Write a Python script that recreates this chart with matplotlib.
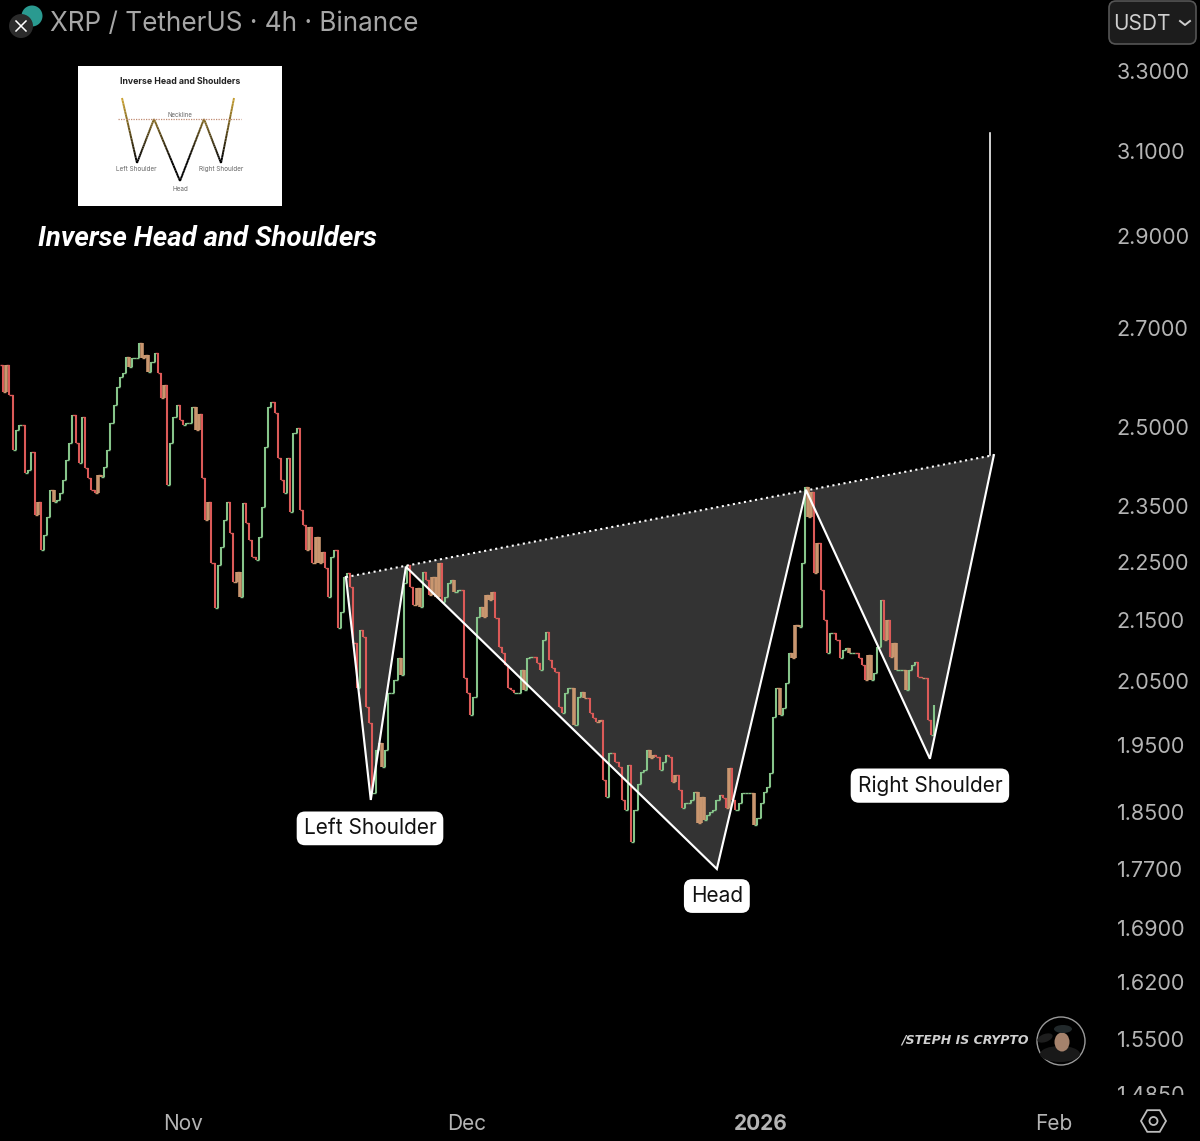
from datetime import datetime, timedelta

import matplotlib
matplotlib.use("Agg")
import matplotlib.pyplot as plt
import matplotlib.dates as mdates
import numpy as np
from matplotlib.collections import LineCollection
from matplotlib.patches import Circle, Ellipse, FancyBboxPatch, Polygon, Rectangle, RegularPolygon
from matplotlib.ticker import NullFormatter, NullLocator

plt.rcParams['font.family'] = ['Inter', 'DejaVu Sans']

# XRP/USDT closes, one every 8h
first_bar = datetime(2025, 10, 12, 16, 0)
closes = [
    2.623, 2.569, 2.623, 2.563, 2.455, 2.494, 2.503, 2.503, 2.411, 2.417,
    2.451, 2.333, 2.357, 2.271, 2.297, 2.329, 2.380, 2.357, 2.361, 2.374,
    2.398, 2.436, 2.468, 2.523, 2.468, 2.430, 2.519, 2.421, 2.402, 2.380,
    2.374, 2.407, 2.404, 2.423, 2.455, 2.507, 2.543, 2.579, 2.599, 2.607,
    2.639, 2.619, 2.637, 2.637, 2.669, 2.637, 2.643, 2.609, 2.629, 2.647,
    2.607, 2.557, 2.583, 2.389, 2.468, 2.519, 2.543, 2.513, 2.503, 2.507,
    2.507, 2.539, 2.494, 2.525, 2.402, 2.324, 2.357, 2.248, 2.170, 2.244,
    2.276, 2.324, 2.357, 2.300, 2.214, 2.232, 2.189, 2.355, 2.319, 2.288,
    2.258, 2.253, 2.294, 2.348, 2.460, 2.539, 2.549, 2.527, 2.440, 2.398,
    2.374, 2.440, 2.339, 2.488, 2.498, 2.342, 2.315, 2.271, 2.311, 2.248,
    2.294, 2.248, 2.267, 2.239, 2.189, 2.258, 2.271, 2.136, 2.163, 2.223,
    2.230,
    2.206, 2.111, 2.038, 2.133, 2.121, 2.009, 1.983, 1.878, 1.942, 1.953,
    1.916, 1.942, 2.030, 2.030, 2.051, 2.087, 2.059, 2.213, 2.244, 2.206,
    2.175, 2.204, 2.172, 2.232, 2.218, 2.192, 2.223, 2.189, 2.248, 2.180,
    2.189, 2.213, 2.218, 2.197, 2.201, 2.201, 2.054, 2.030, 1.996, 2.024,
    2.155, 2.172, 2.155, 2.192, 2.184, 2.197, 2.153, 2.105, 2.095, 2.075,
    2.039, 2.035, 2.030, 2.030, 2.067, 2.035, 2.087, 2.089, 2.089, 2.079,
    2.067, 2.116, 2.130, 2.084, 2.071, 2.064, 2.009, 1.999, 2.030, 2.039,
    2.039, 1.980, 2.024, 2.032, 2.022, 2.022, 1.999, 1.991, 1.985, 1.988,
    1.897, 1.872, 1.937, 1.937, 1.924, 1.916, 1.868, 1.853, 1.919, 1.807,
    1.853, 1.892, 1.909, 1.912, 1.942,
    1.930, 1.935, 1.932, 1.912, 1.924, 1.935, 1.932, 1.894, 1.904, 1.883,
    1.856, 1.864, 1.864, 1.868, 1.880, 1.835, 1.872, 1.839, 1.846, 1.850,
    1.853, 1.868, 1.875, 1.871, 1.857, 1.915, 1.868, 1.853, 1.864, 1.878,
    1.878, 1.878, 1.878, 1.832, 1.842, 1.864, 1.880, 1.887, 1.907, 1.993,
    2.039, 1.996, 2.007, 2.046, 2.095, 2.087, 2.142, 2.138, 2.248, 2.385,
    2.330, 2.376, 2.230, 2.283, 2.201, 2.150, 2.095, 2.128, 2.128, 2.116,
    2.087, 2.100, 2.103, 2.095, 2.095, 2.095, 2.087, 2.075, 2.051, 2.092,
    2.051, 2.062, 2.105, 2.184, 2.116, 2.150, 2.089, 2.111, 2.067, 2.067,
    2.067, 2.035, 2.067, 2.075, 2.080, 2.056, 2.054, 2.054, 1.988, 1.965,
    2.012,
]

# the drawn pattern: shoulders, head, neckline ends
pattern_dates = [
    datetime(2025, 11, 18, 5), datetime(2025, 11, 20, 20), datetime(2025, 11, 24, 13),
    datetime(2025, 12, 27, 9), datetime(2026, 1, 5, 19), datetime(2026, 1, 18, 21),
    datetime(2026, 1, 25, 15),
]
pattern_prices = [2.223, 1.868, 2.241, 1.770, 2.379, 1.929, 2.445]
target_date = datetime(2026, 1, 25, 5)
target_prices = [2.445, 3.144]

pattern_labels = ["Left Shoulder", "Head", "Right Shoulder"]
label_dates = [datetime(2025, 11, 20, 18), datetime(2025, 12, 27, 9), datetime(2026, 1, 18, 21)]
label_prices = [1.827, 1.733, 1.889]

price_ticks = [3.3, 3.1, 2.9, 2.7, 2.5, 2.35, 2.25, 2.15, 2.05, 1.95, 1.85, 1.77, 1.69, 1.62, 1.55, 1.485]
date_ticks = [datetime(2025, 11, 1), datetime(2025, 12, 1), datetime(2026, 1, 1), datetime(2026, 2, 1)]
date_labels = ["Nov", "Dec", "2026", "Feb"]

# small picture of the pattern in the corner
inset_x = [44, 59, 76, 102, 126, 143, 156]
inset_y = [32, 97, 53, 115, 53, 97, 32]

RED = "#dc5a58"
GREEN = "#86c48a"
TAN = "#c9966f"
TEXT = "#b4b4b4"

fig = plt.figure(figsize=(12, 11.41), dpi=100, facecolor="black")
ax = fig.add_axes([0, 46 / 1141, 1100 / 1200, 1095 / 1141], facecolor="black")
ax.set_yscale("log")
ax.set_ylim(1.4837, 3.488)
ax.set_xlim(datetime(2025, 10, 12, 16, 19), datetime(2026, 2, 5, 20, 0))
for side in ax.spines.values():
    side.set_visible(False)

# pattern fill goes under the candles
px = mdates.date2num(pattern_dates)
ax.add_patch(Polygon(np.column_stack([px, pattern_prices]), closed=True, facecolor="#333333",
                     edgecolor="none", zorder=1))

dates = [first_bar + timedelta(hours=8 * i) for i in range(len(closes))]
xs = mdates.date2num(dates)
cl = np.array(closes)
up = cl[1:] >= cl[:-1]
colors = [GREEN if u else RED for u in up]
widths = [1.5] * len(up)
# small zigzags blur into a tan smear in the reference
for i in range(1, len(up) - 1):
    if up[i] != up[i - 1] and up[i] != up[i + 1] and abs(cl[i + 1] - cl[i]) < 0.06:
        colors[i] = TAN
        widths[i] = 2.6
ax.hlines(cl[:-1], xs[:-1], xs[1:], colors=colors, linewidth=1.0, zorder=2)
ax.vlines(xs[1:], cl[:-1], cl[1:], colors=colors, linewidth=widths, zorder=2)

# pattern outline and neckline
ax.plot(px, pattern_prices, color="white", linewidth=1.55, zorder=3, solid_joinstyle="miter")
ax.plot([px[0], px[-1]], [pattern_prices[0], pattern_prices[-1]], color="white",
        linewidth=1.5, linestyle=(0, (1, 1.7)), zorder=3)
ax.plot([target_date, target_date], target_prices, color="white", linewidth=1.15, zorder=3)

for name, d, p in zip(pattern_labels, label_dates, label_prices):
    ax.text(d, p, name, ha="center", va="center", fontsize=15, color="#111111", zorder=4,
            bbox=dict(boxstyle="round,pad=0.33,rounding_size=0.4", facecolor="white", edgecolor="none"))

ax.yaxis.tick_right()
ax.set_yticks(price_ticks)
ax.set_yticklabels(["%.4f" % p for p in price_ticks])
ax.yaxis.set_minor_locator(NullLocator())
ax.yaxis.set_minor_formatter(NullFormatter())
ax.tick_params(axis="y", length=0, pad=12, labelsize=15.5, labelcolor=TEXT)
ax.set_xticks(date_ticks)
ax.set_xticklabels(date_labels)
ax.tick_params(axis="x", length=0, pad=14, labelsize=15, labelcolor=TEXT)
ax.get_xticklabels()[2].set_fontweight("bold")

# header, button, watermark: pixel coordinates on a layer above the chart
over = fig.add_axes([0, 0, 1, 1], facecolor="none")
over.set_xlim(0, 1200)
over.set_ylim(1141, 0)
over.axis("off")

over.add_patch(Rectangle((1100, 1095), 100, 12, facecolor="black", edgecolor="none"))
over.add_patch(Circle((32, 16), 10.5, facecolor="#2a9a90", edgecolor="none"))
over.add_patch(Circle((21, 26), 12, facecolor="#2b2b2b", edgecolor="none"))
over.plot([16, 26], [21, 31], color="white", linewidth=1.1)
over.plot([16, 26], [31, 21], color="white", linewidth=1.1)
over.text(50, 24, "XRP / TetherUS \u00b7 4h \u00b7 Binance", color="#a6a6a6", fontsize=18.8, va="center")
over.text(38, 239, "Inverse Head and Shoulders", color="white", fontsize=19.9, va="center",
          family="Roboto", fontweight="bold", fontstyle="italic")

over.add_patch(FancyBboxPatch((1112, 4), 81, 37, boxstyle="round,pad=3,rounding_size=7",
                              facecolor="#1c1c1c", edgecolor="#555555", linewidth=1.2))
over.text(1113, 24, "USDT", color="#cfcfcf", fontsize=15, va="center")
over.plot([1180, 1185, 1190], [21, 25, 21], color="#cfcfcf", linewidth=1.4)

over.text(1029, 1040, "/STEPH IS CRYPTO", color="#d0d0d0", fontsize=9, ha="right", va="center",
          family="DejaVu Sans", fontweight="bold", fontstyle="italic")
over.add_patch(Circle((1061, 1041), 24, facecolor="black", edgecolor="#9a9a9a", linewidth=1))
over.add_patch(Ellipse((1060, 1054), 40, 16, facecolor="#191919", edgecolor="none"))
over.add_patch(Ellipse((1045, 1038), 16, 8, angle=-20, facecolor="#1e1e1e", edgecolor="none"))
over.add_patch(Ellipse((1062, 1042), 15, 19, facecolor="#a5826c", edgecolor="none"))
over.add_patch(Ellipse((1063, 1029), 18, 8, facecolor="#22292b", edgecolor="none"))

over.add_patch(RegularPolygon((1153.5, 1121), 6, radius=12.5, orientation=np.pi / 6, facecolor="none",
                              edgecolor="#bdbdbd", linewidth=1.3))
over.add_patch(Circle((1153.5, 1121), 4, facecolor="none", edgecolor="#bdbdbd", linewidth=1.3))

# inset picture
inset = fig.add_axes([78 / 1200, (1141 - 206) / 1141, 204 / 1200, 140 / 1141], facecolor="white")
inset.set_xlim(0, 204)
inset.set_ylim(140, 0)
inset.set_xticks([])
inset.set_yticks([])
for side in inset.spines.values():
    side.set_visible(False)
inset.text(102, 15, "Inverse Head and Shoulders", ha="center", va="center", fontsize=6.3,
           fontweight="bold", color="#222222")
pieces = []
for j in range(len(inset_x) - 1):
    sx = np.linspace(inset_x[j], inset_x[j + 1], 25)
    sy = np.linspace(inset_y[j], inset_y[j + 1], 25)
    pieces += [[(sx[n], sy[n]), (sx[n + 1], sy[n + 1])] for n in range(24)]
shade = np.array([(s[0][1] - 32) / 83 for s in pieces])
gold = np.array([0.80, 0.64, 0.20])
seg_colors = [gold * (1 - min(1, v * 1.35)) for v in shade]
inset.add_collection(LineCollection(pieces, colors=seg_colors, linewidth=1.4))
inset.plot([40, 163], [53, 53], color="#c08a70", linewidth=0.9, linestyle=(0, (1, 1)))
inset.text(102, 49, "Neckline", ha="center", va="center", fontsize=4.4, color="#666666")
inset.text(58, 103, "Left Shoulder", ha="center", va="center", fontsize=4.6, color="#666666")
inset.text(143, 103, "Right Shoulder", ha="center", va="center", fontsize=4.6, color="#666666")
inset.text(102, 123, "Head", ha="center", va="center", fontsize=4.6, color="#666666")

fig.savefig("out.png", dpi=100, facecolor="black")
